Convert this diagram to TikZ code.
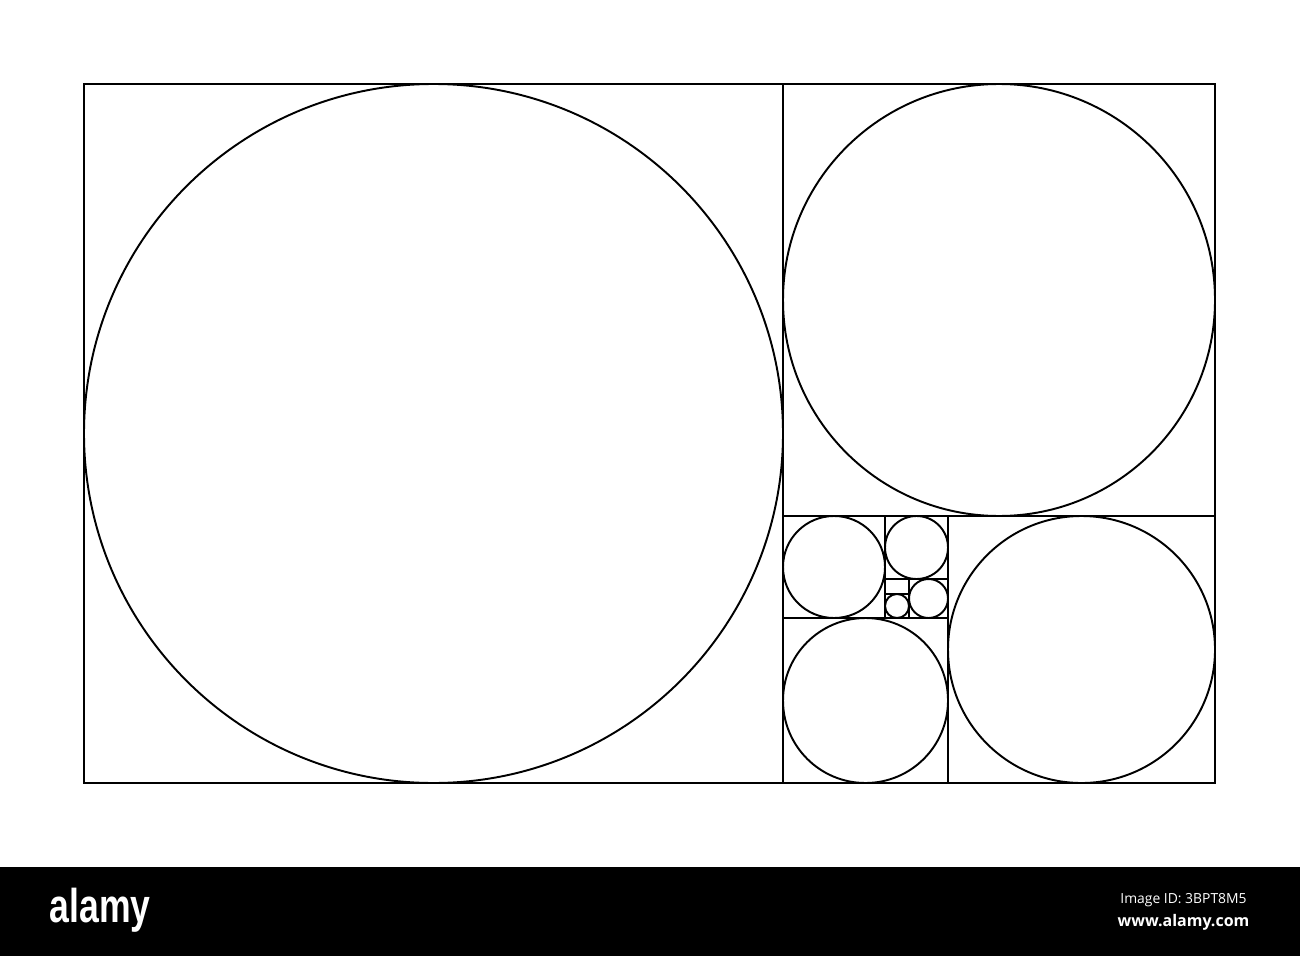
\documentclass[tikz,border=0pt]{standalone}
\usepackage{fontspec}
\newfontfamily\logofont{Liberation Sans}
\newfontfamily\idfont{Open Sans}
\begin{document}
\begin{tikzpicture}[x=0.02cm,y=-0.02cm]
	\tikzset{gline/.style={line width=1.1pt, draw=black}}
	\tikzset{wmtext/.style={text=white, inner sep=0pt}}

	\useasboundingbox (0,0) rectangle (1300,956);

	% golden rectangle
	\draw[gline] (84,84) rectangle (1215,783);

	% squares with their circles
	\foreach \x/\y/\s in {84/84/699, 783/84/432, 948/516/267, 783/618/165,
			783/516/102, 885/516/63, 909/579/39, 885/594/24}{
		\draw[gline] (\x,\y) rectangle ++(\s,\s);
		\draw[gline] (\x+\s/2,\y+\s/2) circle [radius=\s/2];
	}

	% watermark band
	\fill[black] (0,867) rectangle (1300,956);
	\node[wmtext, font=\logofont\bfseries\fontsize{27}{27}\selectfont, xscale=0.75] (logo) at (100,910) {alamy};
	\node[wmtext, font=\idfont\fontsize{7.9}{8}\selectfont] (imgid) at (1183.5,900) {Image ID: 3BPT8M5};
	\node[wmtext, font=\idfont\bfseries\fontsize{9.1}{9}\selectfont] (www) at (1183.5,922) {www.alamy.com};
\end{tikzpicture}
\end{document}
